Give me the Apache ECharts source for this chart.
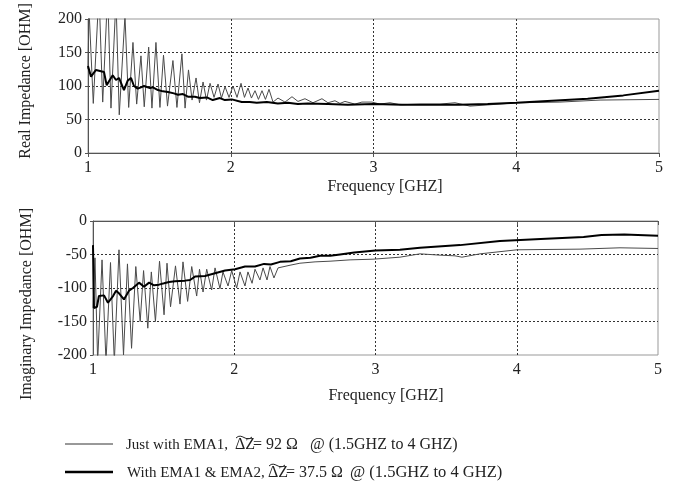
<!DOCTYPE html>
<html>
<head>
<meta charset="utf-8">
<script src="https://cdn.jsdelivr.net/npm/echarts@6/dist/echarts.min.js"></script>
<style>
html,body{margin:0;padding:0;background:#fff;}
#chart{width:686px;height:486px;}
</style>
</head>
<body>
<div id="chart"></div>
<script>
// ---- Data ----
const xTicks = [1, 2, 3, 4, 5];
const realTicks = [0, 50, 100, 150, 200];
const imagTicks = [-200, -150, -100, -50, 0];

// Real impedance, "Just with EMA1" (thin line)
const realThinF = [1.000,1.007,1.037,1.077,1.103,1.138,1.161,1.196,1.219,1.259,1.285,1.315,1.341,1.371,1.394,1.425,1.448,1.476,1.504,1.529,1.557,1.595,1.623,1.658,1.680,1.704,1.729,1.757,1.781,1.806,1.830,1.855,1.883,1.911,1.935,1.960,1.988,2.016,2.044,2.072,2.096,2.121,2.145,2.170,2.194,2.219,2.243,2.268,2.296,2.331,2.380,2.429,2.471,2.520,2.576,2.639,2.681,2.730,2.765,2.800,2.870,2.919,2.989,3.045,3.116,3.186,3.326,3.466,3.571,3.676,3.816,4.005,4.306,4.587,5.000];
const realThinV = [125,215,74,240,76,240,67,230,57,205,68,165,73,145,69,158,67,165,68,146,70,138,68,148,67,124,79,112,75,106,79,104,83,103,82,99,83,100,83,104,83,97,82,93,80,93,80,95,76,82,76,84,77,81,75,81,75,78,74,77,73,76,76,73,75,72,73,73,75,70,72,75,76,79,80];

// Real impedance, "With EMA1 & EMA2" (thick line)
const realThickF = [1.000,1.021,1.056,1.091,1.112,1.131,1.147,1.173,1.196,1.217,1.252,1.278,1.301,1.322,1.348,1.371,1.392,1.434,1.455,1.490,1.525,1.560,1.602,1.630,1.665,1.700,1.749,1.784,1.833,1.874,1.924,1.959,2.007,2.077,2.133,2.182,2.253,2.330,2.400,2.470,2.540,2.680,2.820,3.000,3.200,3.400,3.600,3.800,4.000,4.250,4.500,4.750,5.000];
const realThickV = [130,114,124,122,121,101,107,116,109,112,94,108,112,100,96,98,100,97,98,94,92,91,89,87,88,84,84,82,83,79,82,79,80,76,76,75,76,74,75,73,74,73,72,73,72,72,72,73,75,78,81,86,93];

// Imaginary impedance, "Just with EMA1" (thin line)
const imagThinF = [1.000,1.014,1.033,1.064,1.092,1.124,1.151,1.184,1.216,1.244,1.273,1.303,1.334,1.358,1.388,1.413,1.442,1.471,1.503,1.524,1.549,1.584,1.616,1.637,1.670,1.699,1.734,1.754,1.779,1.805,1.840,1.864,1.899,1.920,1.956,1.982,2.017,2.041,2.076,2.097,2.126,2.147,2.182,2.204,2.232,2.253,2.281,2.310,2.395,2.465,2.572,2.678,2.820,2.982,3.173,3.315,3.457,3.563,3.612,3.740,4.002,4.448,4.731,5.000];
const imagThinV = [-130,-55,-210,-58,-210,-62,-210,-43,-200,-64,-190,-68,-150,-74,-160,-76,-150,-60,-140,-63,-128,-67,-124,-61,-120,-68,-112,-72,-106,-72,-103,-70,-101,-76,-97,-74,-100,-76,-97,-76,-93,-72,-88,-70,-88,-68,-85,-70,-66,-63,-61,-60,-58,-57,-54,-49,-51,-52,-54,-49,-43,-42,-40,-41];

// Imaginary impedance, "With EMA1 & EMA2" (thick line)
const imagThickF = [1.000,1.007,1.028,1.042,1.078,1.106,1.142,1.163,1.184,1.219,1.255,1.283,1.326,1.361,1.397,1.432,1.467,1.503,1.538,1.581,1.651,1.687,1.722,1.793,1.864,1.935,2.006,2.076,2.147,2.211,2.260,2.324,2.400,2.465,2.540,2.607,2.680,2.749,2.850,3.000,3.173,3.315,3.598,3.881,4.170,4.473,4.600,4.762,5.000];
const imagThickV = [-36,-130,-128,-112,-111,-122,-112,-104,-108,-117,-104,-100,-92,-98,-92,-96,-95,-93,-91,-90,-89,-88,-83,-82,-78,-74,-72,-68,-68,-64,-65,-61,-60,-56,-55,-52,-52,-50,-47,-44,-43,-40,-36,-30,-27,-24,-21,-20,-22];

const legendLabels = ['Just with EMA1,', 'With EMA1 & EMA2,'];
const legendValues = ['= 92 \u03A9', '= 37.5 \u03A9'];
const legendRange = '@ (1.5GHZ to 4 GHZ)';

// ---- Chart ----
const FONT = '"Liberation Serif", "Times New Roman", serif';
const pair = (xs, ys) => xs.map((x, i) => [x, ys[i]]);

function xAxisCfg(gridIndex) {
  return {
    type: 'value', gridIndex: gridIndex,
    min: xTicks[0], max: xTicks[xTicks.length - 1], interval: 1,
    axisLine: { show: true, lineStyle: { color: '#555', width: 1 } },
    axisTick: { show: true, length: 4, lineStyle: { color: '#555' } },
    axisLabel: { color: '#222', fontFamily: FONT, fontSize: 16, margin: 7 },
    splitLine: { show: true, showMinLine: false, showMaxLine: false,
      lineStyle: { color: '#333', type: [2, 2], width: 1 } }
  };
}
function yAxisCfg(gridIndex, ticks) {
  return {
    type: 'value', gridIndex: gridIndex,
    min: ticks[0], max: ticks[ticks.length - 1], interval: 50,
    axisLine: { show: true, onZero: false, lineStyle: { color: '#555', width: 1 } },
    axisTick: { show: true, length: 3, lineStyle: { color: '#555' } },
    axisLabel: { color: '#222', fontFamily: FONT, fontSize: 16, margin: 6 },
    splitLine: { show: true, showMinLine: false, showMaxLine: false,
      lineStyle: { color: '#333', type: [2, 2], width: 1 } }
  };
}

const thinStyle = { color: '#4a4a4a', width: 1 };
const thickStyle = { color: '#000', width: 2 };
const txt = (x, y, text, size) => ({ type: 'text', x: x, y: y,
  style: { text: text, font: size + 'px ' + FONT, fill: '#222', align: 'left', verticalAlign: 'middle' } });

const option = {
  animation: false,
  backgroundColor: '#fff',
  grid: [
    { left: 88, top: 19, width: 571, height: 134, show: true, borderColor: '#999', borderWidth: 1, backgroundColor: 'transparent' },
    { left: 93, top: 221, width: 565, height: 134, show: true, borderColor: '#999', borderWidth: 1, backgroundColor: 'transparent' }
  ],
  xAxis: [xAxisCfg(0), xAxisCfg(1)],
  yAxis: [yAxisCfg(0, realTicks), yAxisCfg(1, imagTicks)],
  series: [
    { name: 'Just with EMA1', type: 'line', xAxisIndex: 0, yAxisIndex: 0, data: pair(realThinF, realThinV),
      showSymbol: false, lineStyle: thinStyle, itemStyle: { color: thinStyle.color }, clip: true, z: 2 },
    { name: 'With EMA1 & EMA2', type: 'line', xAxisIndex: 0, yAxisIndex: 0, data: pair(realThickF, realThickV),
      showSymbol: false, lineStyle: thickStyle, itemStyle: { color: '#000' }, clip: true, z: 3 },
    { name: 'Just with EMA1', type: 'line', xAxisIndex: 1, yAxisIndex: 1, data: pair(imagThinF, imagThinV),
      showSymbol: false, lineStyle: thinStyle, itemStyle: { color: thinStyle.color }, clip: true, z: 2 },
    { name: 'With EMA1 & EMA2', type: 'line', xAxisIndex: 1, yAxisIndex: 1, data: pair(imagThickF, imagThickV),
      showSymbol: false, lineStyle: thickStyle, itemStyle: { color: '#000' }, clip: true, z: 3 }
  ],
  graphic: [
    // axis titles
    { type: 'text', x: 385, y: 187, style: { text: 'Frequency [GHZ]', font: '16px ' + FONT, fill: '#222', align: 'center', verticalAlign: 'middle' } },
    { type: 'text', x: 386, y: 396, style: { text: 'Frequency [GHZ]', font: '16px ' + FONT, fill: '#222', align: 'center', verticalAlign: 'middle' } },
    { type: 'text', x: 26, y: 81, rotation: Math.PI / 2, style: { text: 'Real Impedance [OHM]', font: '16px ' + FONT, fill: '#222', align: 'center', verticalAlign: 'middle' } },
    { type: 'text', x: 27, y: 304, rotation: Math.PI / 2, style: { text: 'Imaginary Impedance [OHM]', font: '16px ' + FONT, fill: '#222', align: 'center', verticalAlign: 'middle' } },
    // legend
    { type: 'line', shape: { x1: 65, y1: 444, x2: 113, y2: 444 }, style: { stroke: '#333', lineWidth: 1 } },
    { type: 'line', shape: { x1: 65, y1: 472, x2: 113, y2: 472 }, style: { stroke: '#000', lineWidth: 2.5 } },
    txt(126, 445, legendLabels[0], 15),
    txt(235, 445, '\u0394Z', 16),
    { type: 'bezierCurve', shape: { x1: 236, y1: 438, x2: 252, y2: 437, cpx1: 242, cpy1: 432, cpx2: 246, cpy2: 443 }, style: { stroke: '#222', lineWidth: 1, fill: null } },
    txt(253, 445, legendValues[0], 16),
    txt(310, 445, legendRange, 16),
    txt(127, 473, legendLabels[1], 15),
    txt(268, 473, '\u0394Z', 16),
    { type: 'bezierCurve', shape: { x1: 269, y1: 466, x2: 285, y2: 465, cpx1: 275, cpy1: 460, cpx2: 279, cpy2: 471 }, style: { stroke: '#222', lineWidth: 1, fill: null } },
    txt(286, 473, legendValues[1], 16),
    txt(350, 473, legendRange, 16.5)
  ]
};

const chart = echarts.init(document.getElementById('chart'), null, { renderer: 'canvas' });
chart.setOption(option);
</script>
</body>
</html>
